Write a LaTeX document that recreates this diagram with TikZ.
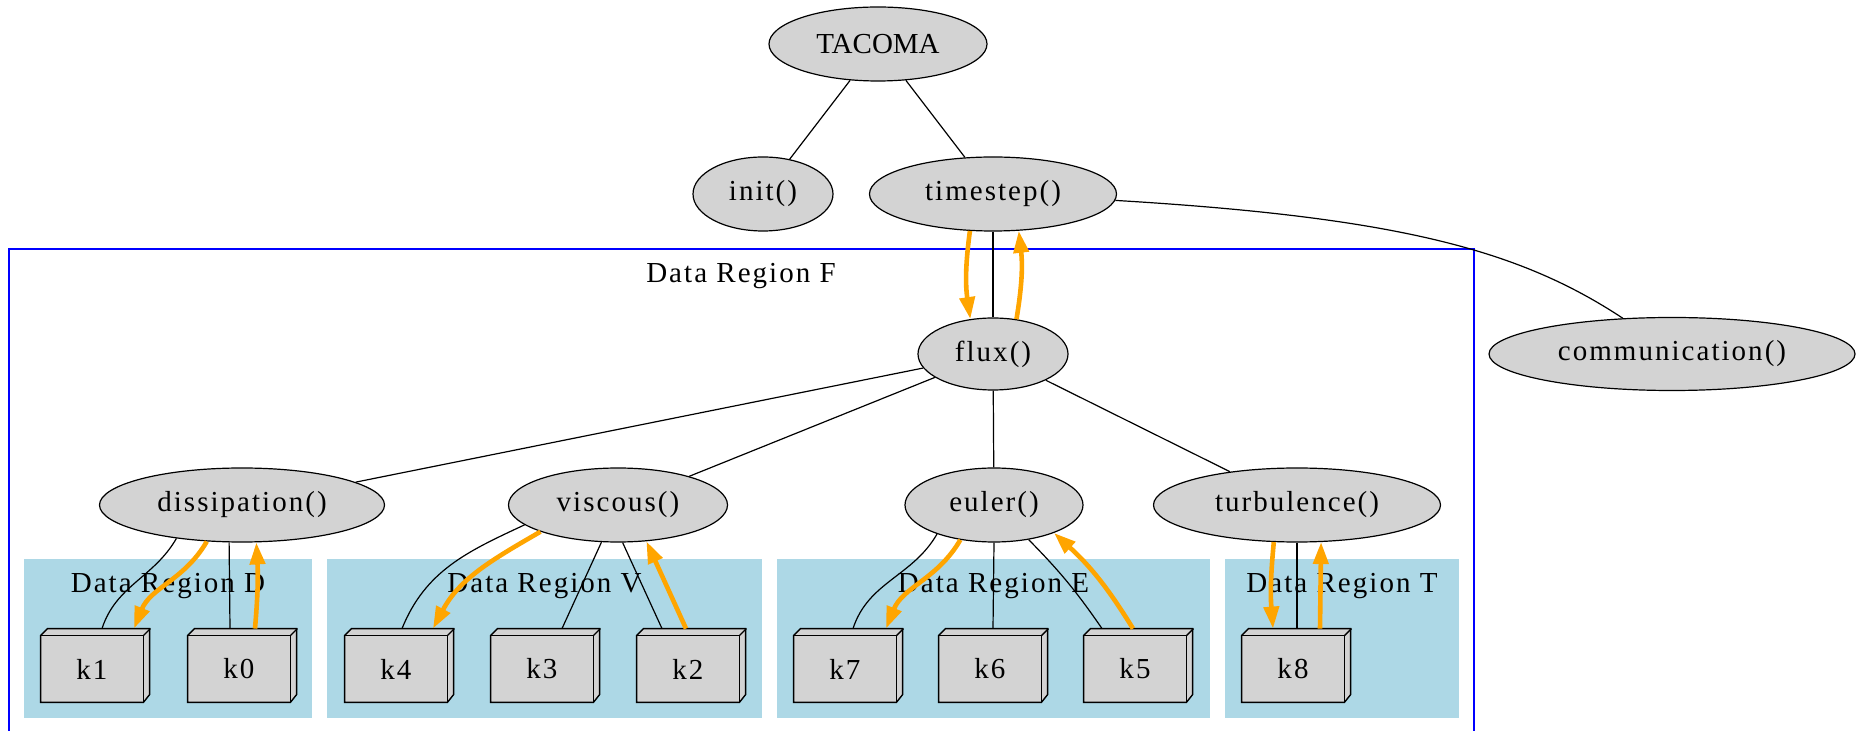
\documentclass[tikz,border=0pt]{standalone}
\usepackage{fontspec}
\newfontfamily\gv{Liberation Serif}[LetterSpace=7]
\newfontfamily\gvc{Liberation Serif}
\usetikzlibrary{shapes.geometric,arrows.meta,backgrounds}
\definecolor{lgray}{HTML}{D3D3D3}
\definecolor{lblue}{HTML}{ADD8E6}
\definecolor{gvorange}{HTML}{FFA500}
\definecolor{gvblue}{HTML}{0000FF}
\begin{document}
\begin{tikzpicture}[x=0.5pt,y=-0.5pt,
  txt/.style={font={\fontsize{14.5pt}{17pt}\selectfont\gv}},
  ell/.style={ellipse,draw,line width=0.6pt,fill=lgray,inner sep=0pt,minimum height=37pt,txt},
  kbox/.style={rectangle,inner sep=0pt,minimum width=51pt,minimum height=33pt,txt},
  kface/.style={fill=lgray,draw=black,line width=0.7pt,line join=miter},
  region/.style={rectangle,fill=lblue,draw=none,inner sep=0pt,minimum height=79.5pt},
  lab/.style={anchor=base,inner sep=0pt,txt},
  edge/.style={draw=black,line width=0.6pt},
  oedge/.style={draw=gvorange,line width=2.3pt,-{Triangle[length=11pt,width=7.5pt]}},
  cluster/.style={draw=gvblue,line width=1pt}]
\useasboundingbox (0,0) rectangle (1858,731);

% top nodes
\node[ell,minimum width=109pt,font={\fontsize{14.5pt}{17pt}\selectfont\gvc}] (tacoma) at (878,44) {TACOMA};
\node[ell,minimum width=70pt] (init) at (763,194) {init()};
\node[ell,minimum width=123.5pt] (timestep) at (993,194) {timestep()};
\node[ell,minimum width=183pt,minimum height=36.5pt] (comm) at (1672,354) {communication()};

% cluster F
\draw[cluster] (9,733) -- (9,249) -- (1474,249) -- (1474,733);
\node[lab] (labF) at (741,283) {Data Region F};

\node[ell,minimum width=75pt,minimum height=36pt] (flux) at (993,354) {flux()};
\node[ell,minimum width=142.5pt] (dis) at (242,505) {dissipation()};
\node[ell,minimum width=109.5pt] (vis) at (618,505) {viscous()};
\node[ell,minimum width=89pt] (eul) at (994,505) {euler()};
\node[ell,minimum width=143.5pt] (turb) at (1297,505) {turbulence()};

% kernels (front faces)
\node[kbox] (k1) at (92,669) {k1};
\node[kbox] (k0) at (239,669) {k0};
\node[kbox] (k4) at (396,669) {k4};
\node[kbox] (k3) at (542,669) {k3};
\node[kbox] (k2) at (688,669) {k2};
\node[kbox] (k7) at (845,669) {k7};
\node[kbox] (k6) at (990,669) {k6};
\node[kbox] (k5) at (1135,669) {k5};
\node[kbox] (k8) at (1293,669) {k8};

\begin{scope}[on background layer]
  % data regions
  \node[region,minimum width=144pt] (rD) at (168,638.5) {};
  \node[region,minimum width=217.5pt] (rV) at (544.5,638.5) {};
  \node[region,minimum width=216.5pt] (rE) at (993.5,638.5) {};
  \node[region,minimum width=117pt] (rT) at (1342,638.5) {};
  \node[lab] (labD) at (168,593) {Data Region D};
  \node[lab] (labV) at (544.5,593) {Data Region V};
  \node[lab] (labE) at (993.5,593) {Data Region E};
  \node[lab] (labT) at (1342,593) {Data Region T};
  \foreach \k in {k1,k0,k4,k3,k2,k7,k6,k5,k8} {
    \path[kface] (\k.north west) -- ++(3.5pt,3.5pt) -- ++(51pt,0pt) -- ++(0pt,-33pt)
      -- (\k.south east) -- (\k.south west) -- cycle;
    \draw[kface,fill=none] (\k.north west) -- (\k.north east) -- (\k.south east);
    \draw[kface,fill=none] (\k.north east) -- ++(3.5pt,3.5pt);
  }
\end{scope}

% tree edges
\draw[edge] (tacoma) -- (init);
\draw[edge] (tacoma) -- (timestep);
\draw[edge] (timestep.357) .. controls +(284,17) and +(-103,-68) .. (comm.144);
\draw[edge] (timestep) -- (flux);
\draw[oedge] (timestep.238) to[bend right=8] (flux.123);
\draw[oedge] (flux.56) to[bend right=8] (timestep.305);
\draw[edge] (flux) -- (dis);
\draw[edge] (flux) -- (vis);
\draw[edge] (flux) -- (eul);
\draw[edge] (flux) -- (turb);

% dissipation
\draw[edge] (dis.207) to[out=240,in=72] ([xshift=5pt,yshift=3.5pt]k1.north);
\draw[oedge] (dis.226) to[out=240,in=68] ([xshift=21pt,yshift=3.5pt]k1.north);
\draw[edge] (dis.251) -- ([xshift=-4.5pt,yshift=3.5pt]k0.north);
\draw[oedge] ([xshift=8pt,yshift=3.5pt]k0.north) to[bend right=4] (dis.291);

% viscous
\draw[edge] (vis.192) to[out=205,in=68] ([xshift=3pt,yshift=3.5pt]k4.north);
\draw[oedge] (vis.199) to[out=210,in=62] ([xshift=18.5pt,yshift=3.5pt]k4.north);
\draw[edge] (vis.246) -- ([xshift=10pt,yshift=3.5pt]k3.north);
\draw[edge] (vis.277) -- ([xshift=-13pt,yshift=3.5pt]k2.north);
\draw[oedge] ([xshift=-1pt,yshift=3.5pt]k2.north) -- (vis.308);

% euler
\draw[edge] (eul.207) to[out=240,in=72] ([xshift=4pt,yshift=3.5pt]k7.north);
\draw[oedge] (eul.226) to[out=240,in=68] ([xshift=20.5pt,yshift=3.5pt]k7.north);
\draw[edge] (eul.270) -- ([xshift=1.5pt,yshift=3.5pt]k6.north);
\draw[edge] (eul.315) to[bend left=5] ([xshift=-16.5pt,yshift=3.5pt]k5.north);
\draw[oedge] ([xshift=-1pt,yshift=3.5pt]k5.north) to[bend right=8] (eul.335);

% turbulence
\draw[oedge] (turb.238) to[bend right=5] ([xshift=-10pt,yshift=3.5pt]k8.north);
\draw[edge] (turb.270) -- ([xshift=2pt,yshift=3.5pt]k8.north);
\draw[oedge] ([xshift=13.5pt,yshift=3.5pt]k8.north) -- (turb.303);
\end{tikzpicture}
\end{document}
